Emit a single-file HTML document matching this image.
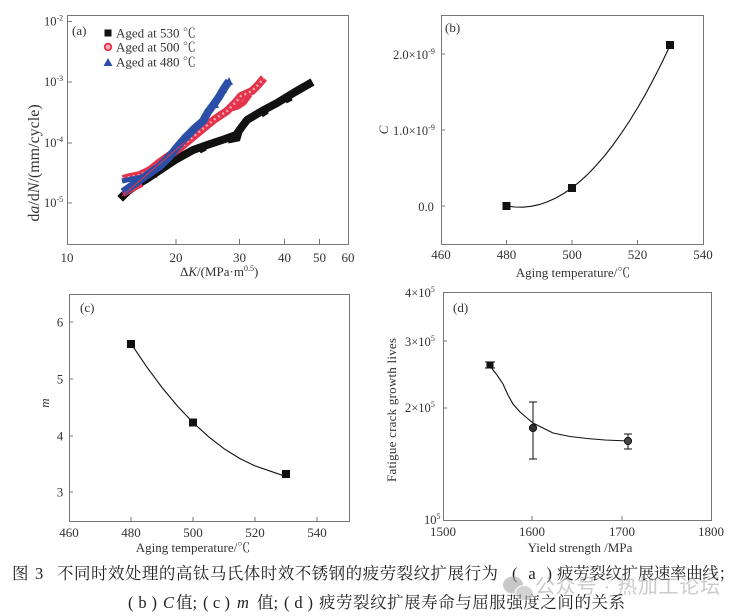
<!DOCTYPE html>
<html><head><meta charset="utf-8"><style>
html,body{margin:0;padding:0;background:#fff;}
svg{display:block;}
text{font-family:"Liberation Serif","Noto Serif CJK SC",serif;fill:#333;}
.cap{font-family:"Liberation Serif","Noto Serif CJK SC",serif;fill:#222;font-size:16.5px;}
</style></head><body>
<svg width="745" height="616" viewBox="0 0 745 616" xmlns="http://www.w3.org/2000/svg">
<rect width="745" height="616" fill="#fff"/>

<!-- ===== Panel (a) ===== -->
<g>
<rect x="67.5" y="15.5" width="281" height="229" fill="none" stroke="#777" stroke-width="1"/>
<g stroke="#777" stroke-width="1">
<line x1="67.5" y1="21.5" x2="72" y2="21.5"/><line x1="67.5" y1="82" x2="72" y2="82"/>
<line x1="67.5" y1="143" x2="72" y2="143"/><line x1="67.5" y1="203" x2="72" y2="203"/>
<line x1="176" y1="244" x2="176" y2="239"/><line x1="239.5" y1="244" x2="239.5" y2="239"/>
<line x1="284.5" y1="244" x2="284.5" y2="239"/><line x1="319.5" y1="244" x2="319.5" y2="239"/>
</g>
<g font-size="12.5">
<text x="44" y="25.5">10<tspan font-size="8" dy="-5">-2</tspan></text>
<text x="44" y="86">10<tspan font-size="8" dy="-5">-3</tspan></text>
<text x="44" y="147">10<tspan font-size="8" dy="-5">-4</tspan></text>
<text x="44" y="207">10<tspan font-size="8" dy="-5">-5</tspan></text>
</g>
<g font-size="13" text-anchor="middle">
<text x="67" y="262">10</text><text x="176" y="262">20</text><text x="239.5" y="262">30</text>
<text x="284.5" y="262">40</text><text x="319.5" y="262">50</text><text x="348" y="262">60</text>
</g>
<text x="180" y="276" font-size="13">Δ<tspan font-style="italic">K</tspan>/(MPa·m<tspan font-size="8" dy="-5">0.5</tspan><tspan dy="5">)</tspan></text>
<text transform="translate(39,163) rotate(-90)" text-anchor="middle" font-size="16">d<tspan font-style="italic">a</tspan>/d<tspan font-style="italic">N</tspan>/(mm/cycle)</text>
<text x="72" y="35" font-size="13">(a)</text>
<!-- legend -->
<rect x="104.5" y="29.5" width="7" height="7" fill="#111"/>
<circle cx="108" cy="47" r="3.3" fill="#f7b0b8" stroke="#e3344c" stroke-width="1.8"/>
<path d="M103.5,66 L108,58 L112.5,66 Z" fill="#2b4fa6"/>
<g font-size="13">
<text x="116" y="37.5">Aged at 530 ℃</text>
<text x="116" y="51.5">Aged at 500 ℃</text>
<text x="116" y="66.5">Aged at 480 ℃</text>
</g>
<!-- black series -->
<polyline fill="none" stroke="#111" stroke-width="8" stroke-linejoin="round" stroke-linecap="square"
 points="123,196 128,191 135,186 145,180 160,170 175,160 193,150 210,144 225,139 236,135 241,128 247,120 262,111 277,103 295,92 309,84"/>
<polyline fill="none" stroke="#111" stroke-width="5" points="228,141 238,139 240,132"/>
<path d="M123,193 l6,-2 M150,177 l7,-1 M200,152 l6,-3 M262,116 l6,-4 M286,102 l6,-3" stroke="#111" stroke-width="3"/>
<!-- red series -->
<polyline fill="none" stroke="#e3344c" stroke-width="8" stroke-linejoin="round"
 points="123,179 130,177 140,175 150,170 160,162 170,155 180,148 193,137 205,127 215,119 227,111 235,103 241,96 252,91 258,85 264,78"/>
<polyline fill="none" stroke="#e3344c" stroke-width="5" stroke-linejoin="round"
 points="228,110 238,107 244,103 250,95"/>
<polyline fill="none" stroke="#e3344c" stroke-width="6" points="123,194 132,189 142,184"/>
<polyline fill="none" stroke="#f7a3ae" stroke-width="2.5" stroke-dasharray="2 3"
 points="123,179 130,177 140,175 150,170 160,162 170,155 180,148 193,137 205,127 215,119 227,111 235,103 241,96 252,91 258,85 264,78"/>
<!-- blue series -->
<polyline fill="none" stroke="#2b4fa6" stroke-width="8" stroke-linejoin="round"
 points="123,192 130,187 140,180 150,173 160,166 170,156 178,146 185,138 195,128 203,121 208,112 214,104 219,97 223,90 227,84 229,81"/>
<polyline fill="none" stroke="#2b4fa6" stroke-width="5" points="122,181 132,179 142,177"/>
<path d="M225,85 L229,77 L233,85 Z M219,93 L223,86 L227,93 Z M211,108 L215,100 L219,108 Z" fill="#2b4fa6"/>
<line x1="122" y1="196" x2="185" y2="142" stroke="#e3344c" stroke-width="1"/>
</g>

<!-- ===== Panel (b) ===== -->
<g>
<rect x="441.5" y="15.5" width="262" height="229" fill="none" stroke="#777" stroke-width="1"/>
<g stroke="#777" stroke-width="1">
<line x1="441.5" y1="54" x2="445" y2="54"/><line x1="441.5" y1="130" x2="445" y2="130"/><line x1="441.5" y1="206" x2="445" y2="206"/>
<line x1="506.5" y1="244" x2="506.5" y2="240"/><line x1="572" y1="244" x2="572" y2="240"/><line x1="637.5" y1="244" x2="637.5" y2="240"/>
</g>
<g font-size="12.5">
<text x="393" y="59">2.0×10<tspan font-size="8" dy="-5">-9</tspan></text>
<text x="393" y="135">1.0×10<tspan font-size="8" dy="-5">-9</tspan></text>
<text x="426" y="211" text-anchor="middle">0.0</text>
</g>
<g font-size="13" text-anchor="middle">
<text x="441" y="259">460</text><text x="506.5" y="259">480</text><text x="572" y="259">500</text>
<text x="637.5" y="259">520</text><text x="703" y="259">540</text>
</g>
<text x="573" y="277" font-size="13" text-anchor="middle">Aging temperature/℃</text>
<text transform="translate(388,130) rotate(-90)" text-anchor="middle" font-size="13" font-style="italic">C</text>
<text x="445" y="32" font-size="13">(b)</text>
<polyline fill="none" stroke="#111" stroke-width="1.1"
 points="506.5,206 514.7,207 522.9,207.2 531.1,206.3 539.3,204.6 547.5,201.8 555.6,198.1 563.8,193.5 572,187.8 580.2,181.2 588.4,173.6 596.6,165.0 604.8,155.5 613,145 621.1,133.6 629.3,121.3 637.5,108 645.7,93.8 653.9,78.4 662.1,62.2 670.3,44.9"/>
<rect x="502.5" y="202" width="8" height="8" fill="#111"/>
<rect x="568" y="184" width="8" height="8" fill="#111"/>
<rect x="666" y="41" width="8" height="8" fill="#111"/>
</g>

<!-- ===== Panel (c) ===== -->
<g>
<rect x="69.5" y="294.5" width="280" height="227" fill="none" stroke="#777" stroke-width="1"/>
<g stroke="#777" stroke-width="1">
<line x1="69.5" y1="322" x2="73" y2="322"/><line x1="69.5" y1="379" x2="73" y2="379"/>
<line x1="69.5" y1="436" x2="73" y2="436"/><line x1="69.5" y1="492" x2="73" y2="492"/>
<line x1="131" y1="521" x2="131" y2="517"/><line x1="193" y1="521" x2="193" y2="517"/>
<line x1="255" y1="521" x2="255" y2="517"/><line x1="317" y1="521" x2="317" y2="517"/>
</g>
<g font-size="13" text-anchor="middle">
<text x="60" y="326.5">6</text><text x="60" y="383.5">5</text><text x="60" y="440.5">4</text><text x="60" y="496.5">3</text>
<text x="69" y="537">460</text><text x="131" y="537">480</text><text x="193" y="537">500</text>
<text x="255" y="537">520</text><text x="317" y="537">540</text>
</g>
<text x="193" y="552" font-size="13" text-anchor="middle">Aging temperature/℃</text>
<text transform="translate(49,403) rotate(-90)" text-anchor="middle" font-size="13" font-style="italic">m</text>
<text x="80" y="312" font-size="13">(c)</text>
<polyline fill="none" stroke="#111" stroke-width="1.1"
 points="131,343.6 146.5,366.6 162,387.5 177.5,406.1 193,422.5 208.5,436.7 224,448.7 239.5,458.4 255,465.9 270.5,471.2 286,476.6"/>
<rect x="127" y="340" width="8" height="8" fill="#111"/>
<rect x="189" y="418.5" width="8" height="8" fill="#111"/>
<rect x="282" y="470" width="8" height="8" fill="#111"/>
</g>

<!-- ===== Panel (d) ===== -->
<g>
<rect x="443.5" y="292.5" width="268" height="228" fill="none" stroke="#777" stroke-width="1"/>
<g stroke="#777" stroke-width="1">
<line x1="443.5" y1="341" x2="447" y2="341"/><line x1="443.5" y1="408" x2="447" y2="408"/>
<line x1="532" y1="520" x2="532" y2="516"/><line x1="622" y1="520" x2="622" y2="516"/>
</g>
<g font-size="12.5">
<text x="405" y="297">4×10<tspan font-size="8" dy="-5">5</tspan></text>
<text x="405" y="346">3×10<tspan font-size="8" dy="-5">5</tspan></text>
<text x="405" y="412">2×10<tspan font-size="8" dy="-5">5</tspan></text>
<text x="424" y="524">10<tspan font-size="8" dy="-5">5</tspan></text>
</g>
<g font-size="13" text-anchor="middle">
<text x="443" y="536">1500</text><text x="532" y="536">1600</text><text x="622" y="536">1700</text><text x="711" y="536">1800</text>
</g>
<text x="580" y="552" font-size="13" text-anchor="middle">Yield strength /MPa</text>
<text transform="translate(396,410) rotate(-90)" text-anchor="middle" font-size="13" textLength="144" lengthAdjust="spacing">Fatigue crack growth lives</text>
<text x="453" y="312" font-size="13">(d)</text>
<polyline fill="none" stroke="#111" stroke-width="1.1"
 points="490,366 497,375 503,384 508,395 513,404 520,412 527,418 533,423 543,428 553,433 570,436.5 587,438.5 605,440 628,441"/>
<g stroke="#222" stroke-width="1.1">
<line x1="533" y1="402" x2="533" y2="459"/><line x1="529" y1="402" x2="537" y2="402"/><line x1="529" y1="459" x2="537" y2="459"/>
<line x1="628" y1="434" x2="628" y2="449"/><line x1="624" y1="434" x2="632" y2="434"/><line x1="624" y1="449" x2="632" y2="449"/>
<line x1="485" y1="362" x2="495" y2="362"/><line x1="485" y1="368" x2="495" y2="368"/>
</g>
<rect x="486.5" y="361.5" width="7" height="7" fill="#111"/>
<circle cx="533" cy="428" r="3.6" fill="#333" stroke="#111" stroke-width="1"/>
<circle cx="628" cy="441" r="3.6" fill="#444" stroke="#111" stroke-width="1"/>
</g>

<!-- ===== Caption ===== -->
<g class="cap">
<text class="cap" x="12" y="579">图</text>
<text class="cap" x="35" y="579">3</text>
<text class="cap" x="57" y="579" textLength="441" lengthAdjust="spacing">不同时效处理的高钛马氏体时效不锈钢的疲劳裂纹扩展行为</text>
<text class="cap" x="512" y="579" textLength="40" lengthAdjust="spacing">(a)</text>
<text class="cap" x="557" y="579" textLength="178" lengthAdjust="spacing">疲劳裂纹扩展速率曲线；</text>
<text class="cap" x="128" y="608" textLength="29" lengthAdjust="spacing">(b)</text>
<text class="cap" x="163" y="608" font-style="italic">C</text>
<text class="cap" x="176" y="608">值;</text>
<text class="cap" x="203" y="608" textLength="27" lengthAdjust="spacing">(c)</text>
<text class="cap" x="237" y="608" font-style="italic">m</text>
<text class="cap" x="257" y="608">值;</text>
<text class="cap" x="284" y="608" textLength="29" lengthAdjust="spacing">(d)</text>
<text class="cap" x="319" y="608" textLength="306" lengthAdjust="spacing">疲劳裂纹扩展寿命与屈服强度之间的关系</text>
</g>

<!-- watermark -->
<g opacity="0.55">
<ellipse cx="513" cy="585" rx="10" ry="8.5" fill="#9a9a9a"/>
<ellipse cx="524" cy="593" rx="9" ry="7.5" fill="#b0b0b0" stroke="#fff" stroke-width="1"/>
<text x="535" y="593" font-size="20" style="fill:#a0a0a0;font-family:'Liberation Sans','Noto Sans CJK SC',sans-serif" textLength="185" lengthAdjust="spacing">公众号 · 热加工论坛</text>
</g>
</svg>
</body></html>
